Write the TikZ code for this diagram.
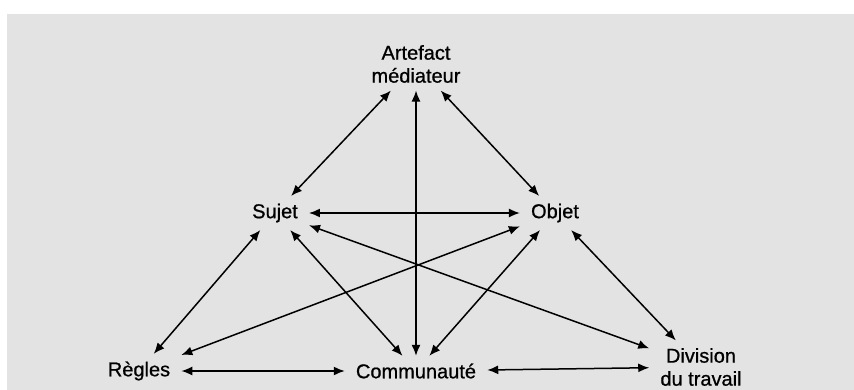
\documentclass[tikz,border=0pt]{standalone}
\usepackage{fontspec}
\setmainfont[FakeBold=0.8]{Liberation Sans}
\usetikzlibrary{arrows.meta}
\definecolor{bggray}{HTML}{E3E3E3}
\begin{document}
\begin{tikzpicture}[x=1pt,y=-1pt,
  lbl/.style={inner xsep=11pt, inner ysep=7.5pt, align=center, font=\fontsize{20}{23}\selectfont},
  link/.style={{Latex[length=11pt,width=9pt]}-{Latex[length=11pt,width=9pt]}, line width=1.5pt}]
\useasboundingbox (0,0) rectangle (854,390);
\fill[bggray] (7,14) rectangle (854,390);
\node[lbl] (art) at (416,64) {Artefact\\médiateur};
\node[lbl] (suj) at (275,213) {Sujet};
\node[lbl] (obj) at (555,213) {Objet};
\node[lbl] (reg) at (139,371) {Règles};
\node[lbl] (com) at (416,371) {Communauté};
\node[lbl] (div) at (701,367) {Division\\du travail};
\draw[link] (art) -- (suj);
\draw[link] (art) -- (obj);
\draw[link] (art) -- (com);
\draw[link] (suj) -- (obj);
\draw[link] (suj) -- (reg);
\draw[link] (suj) -- (com);
\draw[link] (suj) -- (div);
\draw[link] (obj) -- (reg);
\draw[link] (obj) -- (com);
\draw[link] (obj) -- (div);
\draw[link] (reg) -- (com);
\draw[link] (com) -- (div);
\end{tikzpicture}
\end{document}
